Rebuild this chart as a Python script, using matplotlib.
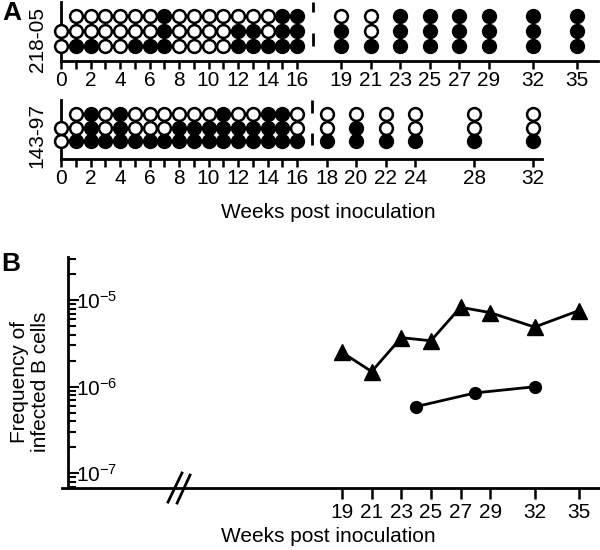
import numpy as np
import matplotlib.pyplot as plt
from matplotlib.ticker import LogLocator, NullFormatter

plt.rcParams['font.family'] = ['Liberation Sans', 'DejaVu Sans']
plt.rcParams['mathtext.fontset'] = 'custom'
plt.rcParams['mathtext.rm'] = 'Liberation Sans'
plt.rcParams['mathtext.it'] = 'Liberation Sans:italic'

W, H = 600, 550

# Panel A, one string per week: rows bottom -> top, 1 = filled, 0 = open, - = no sample
weeks_21805 = [0, 1, 2, 3, 4, 5, 6, 7, 8, 9, 10, 11, 12, 13, 14, 15, 16,
               19, 21, 23, 25, 27, 29, 32, 35]
state_21805 = ["00-", "100", "100", "000", "000", "100", "100", "111", "000",
               "000", "000", "000", "110", "110", "100", "111", "111",
               "110", "100", "111", "111", "111", "111", "111", "111"]
ticks_21805 = [0, 2, 4, 6, 8, 10, 12, 14, 16, 19, 21, 23, 25, 27, 29, 32, 35]

weeks_14397 = [0, 1, 2, 3, 4, 5, 6, 7, 8, 9, 10, 11, 12, 13, 14, 15, 16,
               18, 20, 22, 24, 28, 32]
state_14397 = ["00-", "100", "111", "100", "111", "100", "100", "100", "110",
               "110", "110", "111", "110", "110", "111", "111", "100",
               "100", "110", "100", "100", "100", "100"]
ticks_14397 = [0, 2, 4, 6, 8, 10, 12, 14, 16, 18, 20, 22, 24, 28, 32]

odd_weeks = [1, 3, 5, 7, 9, 11, 13, 15]

# Panel B
tri_weeks = [19, 21, 23, 25, 27, 29, 32, 35]
tri_freq = [2.5e-6, 1.5e-6, 3.7e-6, 3.4e-6, 8.3e-6, 7.2e-6, 4.9e-6, 7.6e-6]
circ_weeks = [24, 28, 32]
circ_freq = [5.9e-7, 8.5e-7, 1.0e-6]
b_ticks = [19, 21, 23, 25, 27, 29, 32, 35]

FS = 15
LW = 2.0


def px_axes(fig, left, top, right, bottom):
    return fig.add_axes([left / W, 1 - bottom / H, (right - left) / W, (bottom - top) / H])


def dot_grid(ax, weeks, states):
    for wk, st in zip(weeks, states):
        for row, s in enumerate(st):
            if s == '-':
                continue
            ax.plot(wk, row + 1, 'o', ms=9.2, mew=1.8, mec='black',
                    mfc='black' if s == '1' else 'white',
                    clip_on=False, zorder=3)


def style_grid(ax, ticks):
    for side in ['top', 'right']:
        ax.spines[side].set_visible(False)
    for side in ['left', 'bottom']:
        ax.spines[side].set_linewidth(LW)
    ax.set_yticks([])
    ax.set_xticks(ticks, labels=[str(t) for t in ticks])
    ax.set_xticks(odd_weeks, minor=True)
    ax.tick_params(axis='x', which='both', length=6, width=1.8,
                   labelsize=FS, pad=1)


fig = plt.figure(figsize=(6, 5.5), dpi=100)

# ---- A, animal 218-05
ax1 = px_axes(fig, 61, 2, 598, 61)
dot_grid(ax1, weeks_21805, state_21805)
style_grid(ax1, ticks_21805)
ax1.set_xlim(0, 36.4)
ax1.set_ylim(0.03, 3.95)
ax1.vlines(17.1, 3.27, 3.94, color='black', lw=LW, clip_on=False)
ax1.vlines(17.1, 1.05, 1.86, color='black', lw=LW, clip_on=False)
fig.text(38 / W, 1 - 40 / H, '218-05', rotation=90, fontsize=FS,
         ha='center', va='center')

# ---- A, animal 143-97
ax2 = px_axes(fig, 61, 100, 542, 159)
dot_grid(ax2, weeks_14397, state_14397)
style_grid(ax2, ticks_14397)
ax2.set_xlim(0, 32.6)
ax2.set_ylim(-0.37, 4.07)
ax2.vlines(17.0, 3.1, 4.07, color='black', lw=LW, clip_on=False)
ax2.vlines(17.0, 0.67, 1.58, color='black', lw=LW, clip_on=False)
fig.text(37 / W, 1 - 136 / H, '143-97', rotation=90, fontsize=FS,
         ha='center', va='center')

fig.text(328 / W, 1 - 213 / H, 'Weeks post inoculation', fontsize=FS,
         ha='center', va='center')
fig.text(12 / W, 1 - 13 / H, 'A', fontsize=19, fontweight='bold',
         ha='center', va='center')

# ---- B
ax3 = px_axes(fig, 62, 257, 600, 488)
ax3.plot(tri_weeks, tri_freq, '-^', color='black', lw=LW, ms=11,
         clip_on=False, zorder=3)
ax3.plot(circ_weeks, circ_freq, '-o', color='black', lw=LW, ms=8.5,
         clip_on=False, zorder=3)
ax3.set_yscale('log')
ax3.set_ylim(10 ** -7.17, 10 ** -4.5)
ax3.set_xlim(0.09, 36.42)
for side in ['top', 'right']:
    ax3.spines[side].set_visible(False)
for side in ['left', 'bottom']:
    ax3.spines[side].set_linewidth(LW)
ax3.spines['left'].set_position(('axes', 6 / 538))
ax3.set_xticks(b_ticks, labels=[str(t) for t in b_ticks])
ax3.tick_params(axis='x', length=8, width=1.8, labelsize=FS, pad=3)
ax3.set_yticks([1e-7, 1e-6, 1e-5])
ax3.yaxis.set_minor_locator(LogLocator(base=10, subs=np.arange(2, 10)))
ax3.yaxis.set_minor_formatter(NullFormatter())
ax3.tick_params(axis='y', which='major', direction='in', length=8, width=1.5,
                labelsize=FS, pad=-6)
ax3.tick_params(axis='y', which='minor', direction='in', length=6, width=1.5)
for lbl in ax3.get_yticklabels():
    lbl.set_horizontalalignment('left')

# axis break mark
for x0, y0, x1, y1 in [(0.197, -0.061, 0.223, 0.065), (0.214, -0.065, 0.238, 0.056)]:
    ax3.plot([x0, x1], [y0, y1], color='black', lw=LW,
             transform=ax3.transAxes, clip_on=False)

fig.text(30 / W, 1 - 382 / H, 'Frequency of\ninfected B cells', rotation=90,
         fontsize=FS, ha='center', va='center', linespacing=1.15)
fig.text(328 / W, 1 - 537 / H, 'Weeks post inoculation', fontsize=FS,
         ha='center', va='center')
fig.text(11 / W, 1 - 264 / H, 'B', fontsize=19, fontweight='bold',
         ha='center', va='center')

fig.savefig('out.png', dpi=100)
